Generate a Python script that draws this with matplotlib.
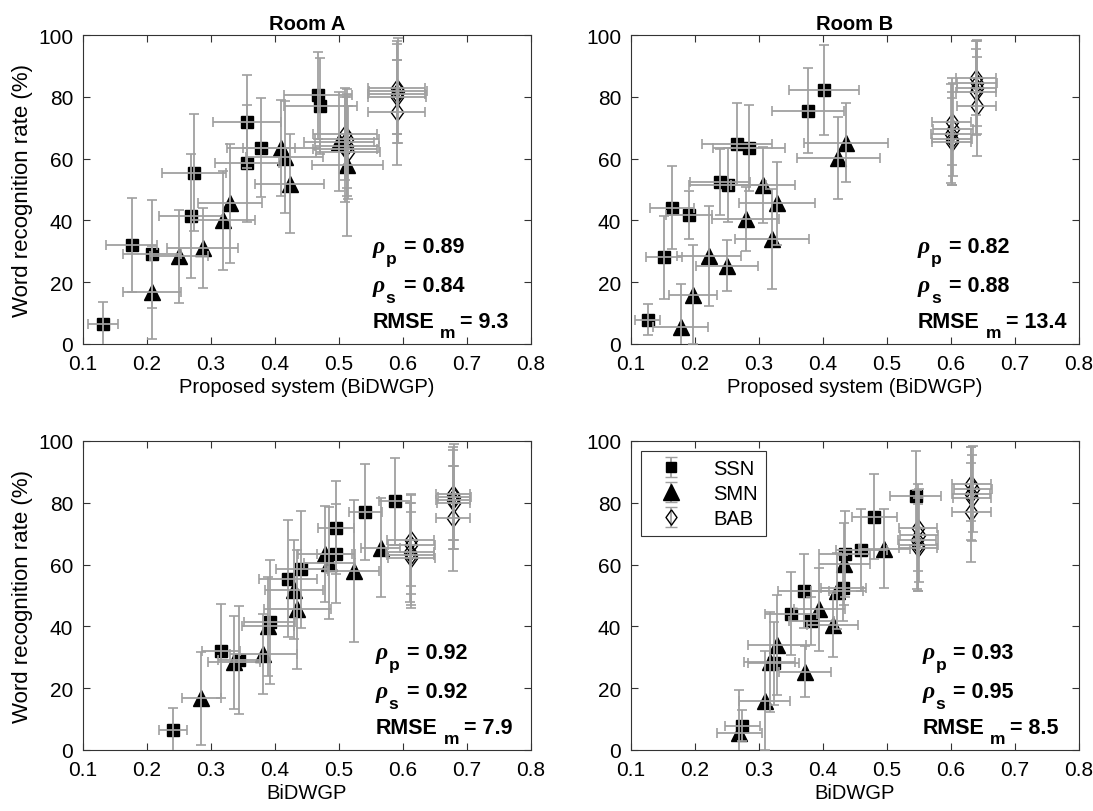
import numpy as np
import matplotlib
matplotlib.use("Agg")
import matplotlib.pyplot as plt

plt.rcParams['font.family'] = ['Liberation Sans', 'DejaVu Sans']

# ---- Room A ----
a_ssn_y = [6.5, 32, 29, 41.5, 55.5, 72, 58.5, 63.5, 80.5, 77]
a_ssn_yerr = [7, 15.3, 17.5, 20, 19, 15, 19, 16, 14, 15.6]
a_ssn_x_top = [0.131, 0.176, 0.208, 0.269, 0.273, 0.356, 0.357, 0.378, 0.467, 0.471]
a_ssn_xerr_top = [0.023, 0.04, 0.045, 0.05, 0.05, 0.053, 0.05, 0.053, 0.053, 0.057]
a_ssn_x_bot = [0.24, 0.316, 0.344, 0.392, 0.42, 0.495, 0.441, 0.495, 0.587, 0.541]
a_ssn_xerr_bot = [0.022, 0.03, 0.033, 0.04, 0.045, 0.028, 0.04, 0.03, 0.025, 0.026]

a_smn_y = [16.7, 28.4, 31, 40, 45.5, 63.5, 60.5, 51.8, 65.5, 57.8]
a_smn_yerr = [15, 15, 13, 16, 19.3, 15.6, 18, 16, 16, 23]
a_smn_x_top = [0.208, 0.25, 0.287, 0.319, 0.33, 0.41, 0.415, 0.423, 0.5, 0.513]
a_smn_xerr_top = [0.045, 0.045, 0.055, 0.05, 0.05, 0.06, 0.06, 0.054, 0.055, 0.055]
a_smn_x_bot = [0.285, 0.336, 0.382, 0.389, 0.435, 0.478, 0.485, 0.43, 0.565, 0.523]
a_smn_xerr_bot = [0.03, 0.04, 0.052, 0.04, 0.052, 0.042, 0.04, 0.045, 0.03, 0.04]

a_bab_y = [68, 66.5, 64, 63, 62, 83, 82, 81, 80, 75]
a_bab_yerr = [15, 16, 16, 17, 15, 15, 17, 16, 12, 17]
a_bab_x_top = [0.51, 0.513, 0.512, 0.51, 0.514, 0.59, 0.592, 0.59, 0.591, 0.59]
a_bab_xerr_top = [0.05, 0.05, 0.05, 0.05, 0.05, 0.045, 0.045, 0.045, 0.045, 0.045]
a_bab_x_bot = [0.612, 0.613, 0.611, 0.612, 0.613, 0.678, 0.68, 0.678, 0.679, 0.678]
a_bab_xerr_bot = [0.037, 0.037, 0.037, 0.037, 0.037, 0.026, 0.026, 0.026, 0.026, 0.026]

# ---- Room B ----
b_ssn_y = [7.8, 44.1, 28, 41.7, 52.3, 51.4, 64.8, 63.5, 75.5, 82.2]
b_ssn_yerr = [5, 13.4, 13.3, 7.7, 10.7, 12, 13.3, 14, 13.7, 14.7]
b_ssn_x_top = [0.126, 0.164, 0.152, 0.19, 0.239, 0.251, 0.266, 0.284, 0.377, 0.402]
b_ssn_xerr_top = [0.02, 0.035, 0.028, 0.036, 0.047, 0.06, 0.055, 0.056, 0.056, 0.055]
b_ssn_x_bot = [0.274, 0.35, 0.323, 0.382, 0.432, 0.37, 0.46, 0.434, 0.48, 0.545]
b_ssn_xerr_bot = [0.027, 0.04, 0.04, 0.035, 0.035, 0.04, 0.04, 0.04, 0.035, 0.04]

b_smn_y = [5.4, 15.9, 28.6, 25.4, 40.4, 51.4, 45.5, 34, 60.2, 65.2]
b_smn_yerr = [14, 16, 16.2, 8.2, 10.3, 12.4, 13.3, 16.2, 13.2, 12.8]
b_smn_x_top = [0.178, 0.197, 0.222, 0.25, 0.279, 0.306, 0.328, 0.32, 0.424, 0.436]
b_smn_xerr_top = [0.043, 0.037, 0.05, 0.049, 0.053, 0.05, 0.06, 0.058, 0.065, 0.065]
b_smn_x_bot = [0.269, 0.309, 0.317, 0.372, 0.415, 0.422, 0.394, 0.328, 0.433, 0.496]
b_smn_xerr_bot = [0.035, 0.04, 0.04, 0.04, 0.04, 0.04, 0.04, 0.045, 0.04, 0.04]

b_bab_y = [72, 69.5, 68, 66.5, 65.5, 86, 84.5, 83, 81.5, 77]
b_bab_yerr = [14, 15, 16, 15, 14, 12, 14, 15, 14, 16]
b_bab_x_top = [0.601, 0.603, 0.6, 0.602, 0.601, 0.639, 0.641, 0.64, 0.639, 0.64]
b_bab_xerr_top = [0.031] * 10
b_bab_x_bot = [0.548, 0.55, 0.547, 0.549, 0.548, 0.632, 0.634, 0.631, 0.633, 0.632]
b_bab_xerr_bot = [0.03] * 10

titles = ['Room A', 'Room B']
xlabels = ['Proposed system (BiDWGP)', 'BiDWGP']
rho_p = [['0.89', '0.82'], ['0.92', '0.93']]
rho_s = [['0.84', '0.88'], ['0.92', '0.95']]
rmse_m = [['9.3', '13.4'], ['7.9', '8.5']]
text_x = [[0.552, 0.548], [0.557, 0.555]]

ERR_COLOR = '#a0a0a0'
DIAMOND = [(0, 1), (0.72, 0), (0, -1), (-0.72, 0), (0, 1)]


def draw_series(ax, x, y, xerr, yerr, marker, ms, face):
    ax.plot(x, y, linestyle='none', marker=marker, markersize=ms,
            markerfacecolor=face, markeredgecolor='black', markeredgewidth=1.0, zorder=2)
    ax.errorbar(x, y, xerr=xerr, yerr=yerr, fmt='none', ecolor=ERR_COLOR,
                elinewidth=1.3, capsize=3.5, capthick=1.2, zorder=3)


def stat_line(ax, x, y, head, sub, value, sub_dx, val_dx, sub_dy):
    # head letter, lowered subscript, then "= value"
    if head == 'ρ':
        ax.annotate(head, (x, y), xytext=(0, 0), textcoords='offset points',
                    family='Liberation Serif', style='italic', weight='bold',
                    fontsize=17, va='baseline')
    else:
        ax.annotate(head, (x, y), xytext=(0, 0), textcoords='offset points',
                    weight='bold', fontsize=15.5, va='baseline')
    ax.annotate(sub, (x, y), xytext=(sub_dx, sub_dy), textcoords='offset points',
                weight='bold', fontsize=12.5, va='baseline')
    ax.annotate('= ' + value, (x, y), xytext=(val_dx, 0), textcoords='offset points',
                weight='bold', fontsize=15.5, va='baseline')


fig = plt.figure(figsize=(10.93, 8.12), dpi=100)
lefts = [83 / 1093, 631 / 1093]
bottoms = [(812 - 345) / 812, (812 - 751) / 812]
w = 448 / 1093
h = 309 / 812

data = {
    (0, 0): [(a_ssn_x_top, a_ssn_y, a_ssn_xerr_top, a_ssn_yerr),
             (a_smn_x_top, a_smn_y, a_smn_xerr_top, a_smn_yerr),
             (a_bab_x_top, a_bab_y, a_bab_xerr_top, a_bab_yerr)],
    (0, 1): [(b_ssn_x_top, b_ssn_y, b_ssn_xerr_top, b_ssn_yerr),
             (b_smn_x_top, b_smn_y, b_smn_xerr_top, b_smn_yerr),
             (b_bab_x_top, b_bab_y, b_bab_xerr_top, b_bab_yerr)],
    (1, 0): [(a_ssn_x_bot, a_ssn_y, a_ssn_xerr_bot, a_ssn_yerr),
             (a_smn_x_bot, a_smn_y, a_smn_xerr_bot, a_smn_yerr),
             (a_bab_x_bot, a_bab_y, a_bab_xerr_bot, a_bab_yerr)],
    (1, 1): [(b_ssn_x_bot, b_ssn_y, b_ssn_xerr_bot, b_ssn_yerr),
             (b_smn_x_bot, b_smn_y, b_smn_xerr_bot, b_smn_yerr),
             (b_bab_x_bot, b_bab_y, b_bab_xerr_bot, b_bab_yerr)],
}
styles = [('s', 9, 'black'), ('^', 12, 'black'), (DIAMOND, 12.6, 'none')]
legend_ms = [7, 11, 11]

for r in range(2):
    for c in range(2):
        ax = fig.add_axes([lefts[c], bottoms[r], w, h])
        for (x, y, xe, ye), (m, ms, fc) in zip(data[(r, c)], styles):
            draw_series(ax, x, y, xe, ye, m, ms, fc)
        ax.set_xlim(0.1, 0.8)
        ax.set_ylim(0, 100)
        ax.set_xticks(np.arange(0.1, 0.81, 0.1))
        ax.set_xticklabels(['0.1', '0.2', '0.3', '0.4', '0.5', '0.6', '0.7', '0.8'])
        ax.set_yticks(range(0, 101, 20))
        ax.tick_params(direction='in', top=True, right=True, labelsize=15,
                       length=5, width=0.8, color='#333333', pad=7)
        for sp in ax.spines.values():
            sp.set_color('#333333')
            sp.set_linewidth(0.8)
        ax.set_xlabel(xlabels[r], fontsize=14.5, labelpad=3)
        if c == 0:
            ax.set_ylabel('Word recognition rate (%)', fontsize=16, labelpad=4)
        if r == 0:
            ax.set_title(titles[c], fontsize=14.5, fontweight='bold', pad=4)

        tx = text_x[r][c]
        stat_line(ax, tx, 29.8, 'ρ', 'p', rho_p[r][c], 9.5, 22.5, -8)
        stat_line(ax, tx, 17.3, 'ρ', 's', rho_s[r][c], 9.5, 22.5, -8)
        stat_line(ax, tx, 5.4, 'RMSE', 'm', rmse_m[r][c], 49, 63.5, -7)

        if r == 1 and c == 1:
            handles = []
            for (m, ms, fc), lms, lab in zip(styles, legend_ms, ['SSN', 'SMN', 'BAB']):
                hnd = ax.errorbar([np.nan], [np.nan], yerr=[1], marker=m, linestyle='none',
                                  markersize=lms, markerfacecolor=fc, markeredgecolor='black',
                                  ecolor=ERR_COLOR, elinewidth=1.3, capsize=4, label=lab)
                handles.append(hnd)
            leg = ax.legend(handles=handles, loc='upper left', fontsize=14.5,
                            fancybox=False, framealpha=1, edgecolor='#333333',
                            borderaxespad=0.5, handletextpad=1.0, borderpad=0.4,
                            labelspacing=0.3, handlelength=2.2)
            leg.get_frame().set_linewidth(0.8)

fig.savefig('out.png', dpi=100)
